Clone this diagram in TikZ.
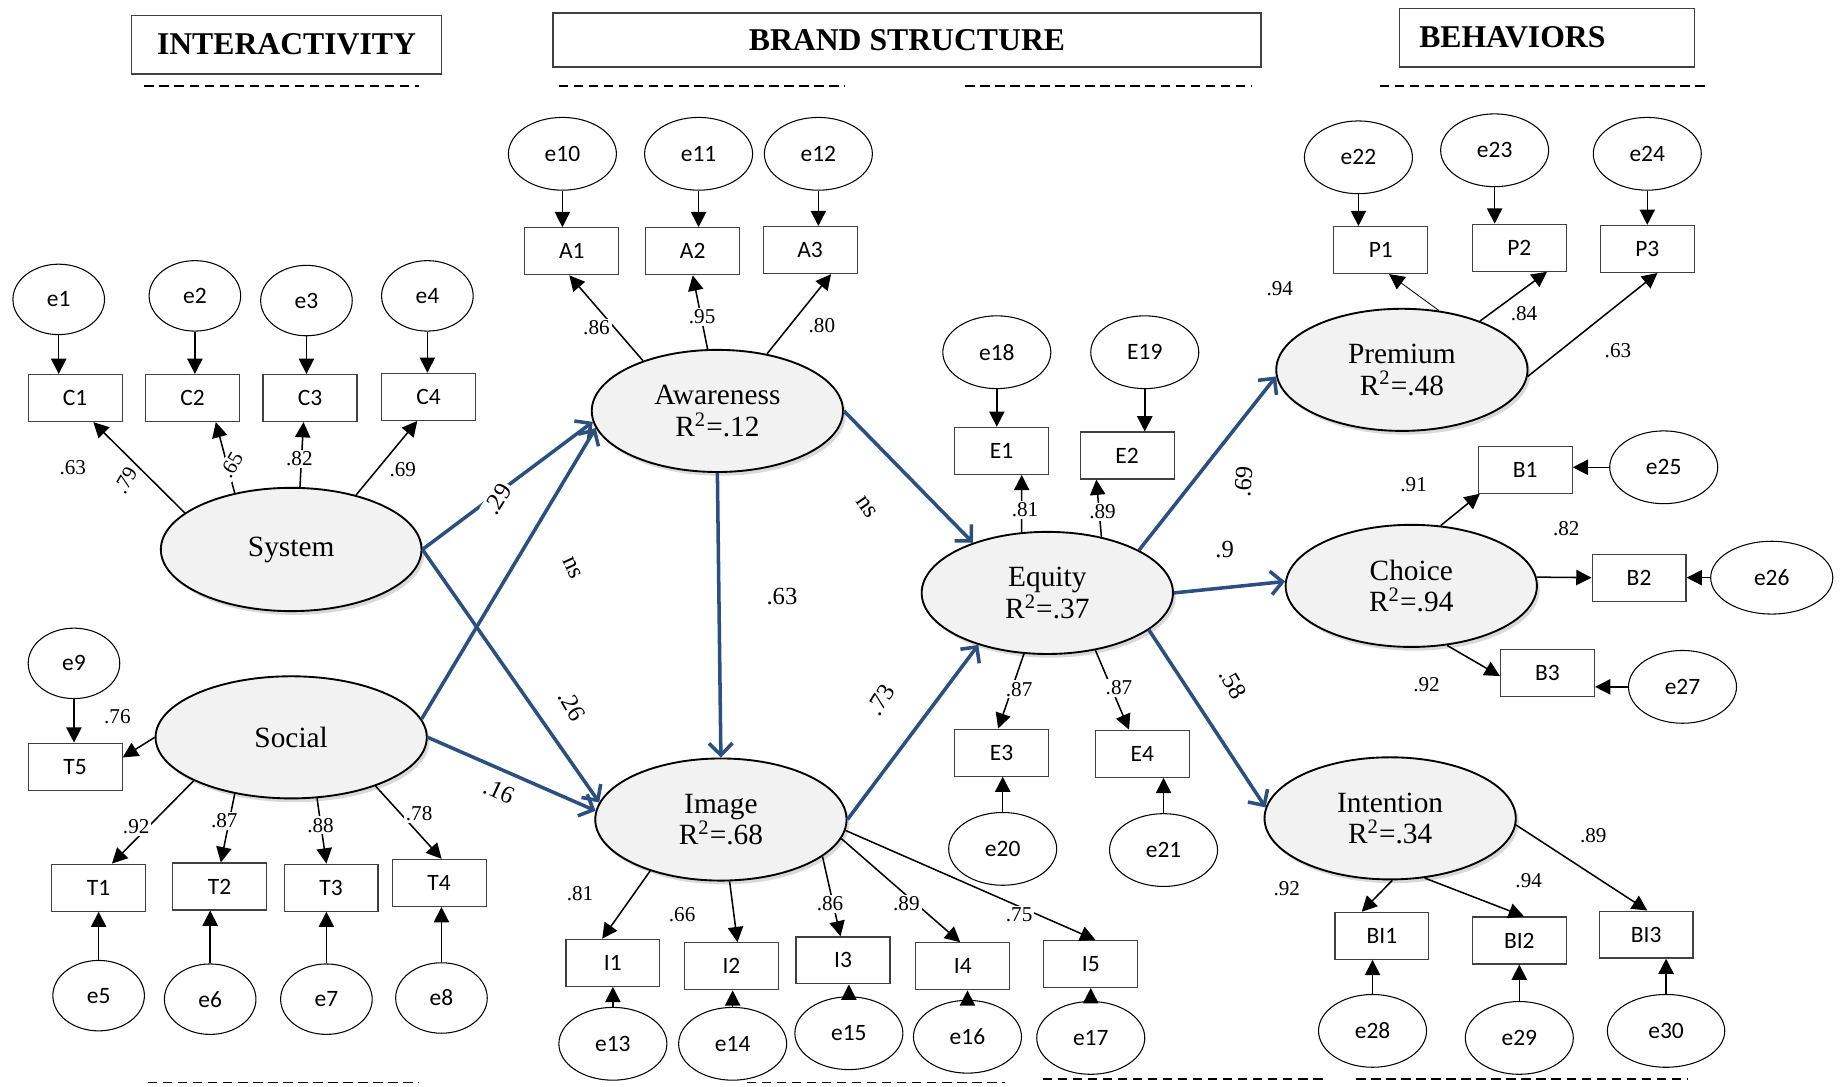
\documentclass[tikz,border=0pt]{standalone}
\usepackage{fontspec}
\setmainfont{Liberation Serif}
\newfontfamily\carlito{Carlito}
\usetikzlibrary{arrows.meta,shapes.geometric,shadows,calc}

\definecolor{pathblue}{RGB}{43,79,129}
\definecolor{latfill}{RGB}{242,242,242}

\tikzset{
  lat/.style={ellipse, draw=black, line width=0.8pt, fill=latfill,
    minimum width=107pt, minimum height=52pt, inner sep=0pt, align=center,
    font=\fontsize{12.5}{13.5}\selectfont,
    drop shadow={shadow xshift=1.2pt, shadow yshift=-1.6pt, opacity=0.3}},
  err/.style={ellipse, draw=black, line width=0.45pt, minimum width=46pt,
    minimum height=31pt, inner sep=0pt, font=\carlito\fontsize{10}{12}\selectfont},
  errs/.style={err, minimum width=39pt, minimum height=30pt},
  ind/.style={rectangle, draw=black!75, line width=0.5pt, minimum width=40pt,
    minimum height=20pt, inner sep=0pt, font=\carlito\fontsize{10}{12}\selectfont},
  hdr/.style={rectangle, draw=black!75, line width=0.6pt, inner sep=0pt},
  hdrtext/.style={font=\bfseries\fontsize{13.5}{15}\selectfont, inner sep=0pt},
  dashline/.style={line width=0.75pt, dash pattern=on 4pt off 2.4pt},
  load/.style={line width=0.65pt, -{Triangle[length=6.5pt,width=6.5pt]}},
  errarr/.style={line width=0.65pt, -{Triangle[length=6.5pt,width=6.5pt]}},
  struct/.style={draw=pathblue, line width=1.5pt, -{Straight Barb[length=5pt,width=10pt]}},
  num/.style={font=\fontsize{9}{10}\selectfont, fill=white, inner sep=0.8pt},
  snum/.style={font=\fontsize{10.5}{12}\selectfont, fill=white, inner sep=1pt},
}

\begin{document}
\begin{tikzpicture}[x=0.5pt, y=-0.5pt]
\useasboundingbox (0,0) rectangle (1568,925);

% ---------- section headers ----------
\node[hdr, minimum width=132pt, minimum height=25pt] (hint) at (244,38) {};
\node[hdrtext] (tint) at (hint.center) {INTERACTIVITY};
\node[hdr, minimum width=301.5pt, minimum height=23pt] (hbrand) at (772.5,34) {};
\node[hdrtext] (tbrand) at (hbrand.center) {BRAND STRUCTURE};
\node[hdr, minimum width=125.5pt, minimum height=25pt] (hbeh) at (1317.5,32) {};
\node[hdrtext, anchor=west] (tbeh) at ($(hbeh.west)+(17,0)$) {BEHAVIORS};

\draw[dashline] (123,73) -- (357,73);
\draw[dashline] (476,73) -- (720,73);
\draw[dashline] (822,73) -- (1066,73);
\draw[dashline] (1175,73) -- (1455,73);
\draw[dashline] (126,922) -- (357,922);
\draw[dashline] (636,922) -- (856,922);
\draw[dashline] (888,919) -- (1130,919);
\draw[dashline] (1155,919) -- (1438,919);

% ---------- latent variables ----------
\node[lat, minimum width=111pt, minimum height=52.5pt] (sys) at (248,468) {System};
\node[lat, minimum width=115.5pt, minimum height=52pt] (soc) at (248,628) {Social};
\node[lat] (aw) at (611,350) {Awareness\\R\textsuperscript{2}=.12};
\node[lat] (img) at (614,698) {Image\\R\textsuperscript{2}=.68};
\node[lat] (eq) at (892,505) {Equity\\R\textsuperscript{2}=.37};
\node[lat] (prem) at (1194,315) {Premium\\R\textsuperscript{2}=.48};
\node[lat] (cho) at (1202,499) {Choice\\R\textsuperscript{2}=.94};
\node[lat] (intn) at (1184,697) {Intention\\R\textsuperscript{2}=.34};

% ---------- indicators ----------
\node[ind] (c1) at (64,339) {C1};
\node[ind] (c2) at (164,339) {C2};
\node[ind] (c3) at (264,339) {C3};
\node[ind] (c4) at (365,338) {C4};
\node[ind] (t5) at (64,653) {T5};
\node[ind] (t1) at (84,756) {T1};
\node[ind] (t2) at (187,755) {T2};
\node[ind] (t3) at (282,756) {T3};
\node[ind] (t4) at (374,752) {T4};
\node[ind] (a1) at (487,214) {A1};
\node[ind] (a2) at (590,214) {A2};
\node[ind] (a3) at (690,213) {A3};
\node[ind] (ee1) at (853,384) {E1};
\node[ind] (ee2) at (960,388) {E2};
\node[ind] (ee3) at (853,641) {E3};
\node[ind] (ee4) at (973,642) {E4};
\node[ind] (i1) at (522,820) {I1};
\node[ind] (i2) at (623,823) {I2};
\node[ind] (i3) at (718,818) {I3};
\node[ind] (i4) at (820,823) {I4};
\node[ind] (i5) at (929,821) {I5};
\node[ind] (p1) at (1176,213) {P1};
\node[ind] (p2) at (1294,211) {P2};
\node[ind] (p3) at (1403,212) {P3};
\node[ind] (b1) at (1299,400) {B1};
\node[ind] (b2) at (1396,492) {B2};
\node[ind] (b3) at (1318,573) {B3};
\node[ind] (bi1) at (1177,797) {BI1};
\node[ind] (bi2) at (1294,801) {BI2};
\node[ind] (bi3) at (1402,796) {BI3};

% ---------- error terms ----------
\node[errs] (e1) at (50,255) {e1};
\node[errs] (e2) at (166,252) {e2};
\node[errs] (e3) at (261,256) {e3};
\node[errs] (e4) at (364,252) {e4};
\node[errs] (e9) at (63,565) {e9};
\node[errs] (e5) at (84,848) {e5};
\node[errs] (e6) at (179,851) {e6};
\node[errs] (e7) at (278,851) {e7};
\node[errs] (e8) at (376,850) {e8};
\node[err] (e10) at (479,131) {e10};
\node[err] (e11) at (595,131) {e11};
\node[err] (e12) at (697,131) {e12};
\node[err] (e18) at (849,300) {e18};
\node[err] (e19) at (975,300) {E19};
\node[err] (e20) at (854,723) {e20};
\node[err] (e21) at (991,724) {e21};
\node[err] (e13) at (522,889) {e13};
\node[err] (e14) at (624,889) {e14};
\node[err] (e15) at (723,880) {e15};
\node[err] (e16) at (824,883) {e16};
\node[err] (e17) at (929,884) {e17};
\node[err] (e22) at (1157,134) {e22};
\node[err] (e23) at (1273,128) {e23};
\node[err] (e24) at (1403,131) {e24};
\node[err] (e25) at (1417,398) {e25};
\node[err, minimum width=52pt] (e26) at (1509,492) {e26};
\node[err] (e27) at (1433,585) {e27};
\node[err] (e28) at (1169,878) {e28};
\node[err] (e29) at (1294,884) {e29};
\node[err, minimum width=50pt] (e30) at (1419,878) {e30};

% ---------- error arrows ----------
\foreach \e/\m in {e1/c1,e2/c2,e3/c3,e4/c4,e9/t5,e10/a1,e11/a2,e12/a3,e18/ee1,e19/ee2,e22/p1,e23/p2,e24/p3}
  \draw[errarr] (\e.south) -- (\e.south |- \m.north);
\foreach \e/\m in {e5/t1,e6/t2,e7/t3,e8/t4,e13/i1,e14/i2,e15/i3,e16/i4,e17/i5,e20/ee3,e21/ee4,e28/bi1,e29/bi2,e30/bi3}
  \draw[errarr] (\e.north) -- (\e.north |- \m.south);
\foreach \e/\m in {e25/b1,e26/b2,e27/b3}
  \draw[errarr] (\e.west) -- (\e.west -| \m.east);

% ---------- factor loadings ----------
\draw[load] (sys.161) -- (c1.-53);
\draw[load] (sys.135) -- (c2.-46);
\draw[load] (sys.82) -- (c3.-105);
\draw[load] (sys.40) -- (c4.-115);
\draw[load] (soc.180) -- (t5.11);
\draw[load] (soc.204) -- (t1.61);
\draw[load] (soc.225) -- (t2.87);
\draw[load] (soc.293) -- (t3.101);
\draw[load] (soc.330) -- (t4.84);
\draw[load] (aw.146) -- (a1.-96);
\draw[load] (aw.99) -- (a2.-90);
\draw[load] (aw.49) -- (a3.-49);
\draw[load] (eq.113) -- (ee1.-50);
\draw[load] (eq.46) -- (ee2.-142);
\draw[load] (eq.249) -- (ee3.98);
\draw[load] (eq.310) -- (ee4.119);
\draw[load] (img.216) -- (i1.114);
\draw[load] (img.278) -- (i2.76);
\draw[load] (img.340) -- (i3.96);
\draw[load] (img.351) -- (i4.96);
\draw[load] (img.355) -- (i5.79);
\draw[load, line width=0.35pt] (prem.58) -- (p1.-71);
\draw[load] (prem.32) -- (p2.-41);
\draw[load] (prem.357) -- (p3.-67);
\draw[load] (cho.64) -- (b1.208);
\draw[load] (cho.4) -- (b2.180);
\draw[load] (cho.301) -- (b3.184);
\draw[load] (intn.272) -- (bi1.130);
\draw[load] (intn.300) -- (bi2.79);
\draw[load] (intn.357) -- (bi3.87);

% ---------- structural paths ----------
\draw[struct] (sys.east) -- (aw.185);
\draw[struct] (soc.8) -- (aw.188);
\draw[struct] (sys.east) -- (img.172);
\draw[struct] (soc.east) -- (img.176);
\draw[struct] (aw.south) -- (img.north);
\draw[struct] (aw.east) -- (eq.146);
\draw[struct] (img.east) -- (eq.217);
\draw[struct] (eq.25) -- (prem.183);
\draw[struct] (eq.east) -- (cho.178);
\draw[struct] (eq.340) -- (intn.175);

% ---------- path coefficients ----------
\node[snum, rotate=58] (s1) at (424,425) {.29};
\node[snum, rotate=-65] (s2) at (487,484) {ns};
\node[snum, rotate=-60] (s3) at (487,601) {.26};
\node[snum, rotate=-25] (s4) at (425,674) {.16};
\node[snum] (s5) at (666,508) {.63};
\node[snum, rotate=-55] (s6) at (738,432) {ns};
\node[snum, rotate=58] (s7) at (750,596) {.73};
\node[snum, rotate=85] (s8) at (1059,410) {.69};
\node[snum] (s9) at (1043,468) {.9};
\node[snum, rotate=-60] (s10) at (1050,582) {.58};

% ---------- loading values ----------
\node[num] (n1) at (62,398) {.63};
\node[num, rotate=60] (n2) at (107,409) {.79};
\node[num, rotate=60] (n3) at (197,396) {.65};
\node[num] (n4) at (255,391) {.82};
\node[num] (n5) at (343,400) {.69};
\node[num] (n6) at (100,610) {.76};
\node[num] (n7) at (116,704) {.92};
\node[num] (n8) at (191,699) {.87};
\node[num] (n9) at (273,703) {.88};
\node[num] (n10) at (357,693) {.78};
\node[num] (n11) at (508,279) {.86};
\node[num] (n12) at (598,270) {.95};
\node[num] (n13) at (700,277) {.80};
\node[num] (n14) at (873,434) {.81};
\node[num] (n15) at (939,436) {.89};
\node[num] (n16) at (868,587) {.87};
\node[num] (n17) at (953,586) {.87};
\node[num] (n18) at (494,761) {.81};
\node[num] (n19) at (581,779) {.66};
\node[num] (n20) at (707,770) {.86};
\node[num] (n21) at (772,770) {.89};
\node[num] (n22) at (868,779) {.75};
\node[num] (n23) at (1090,246) {.94};
\node[num] (n24) at (1298,267) {.84};
\node[num] (n25) at (1378,299) {.63};
\node[num] (n26) at (1204,413) {.91};
\node[num] (n27) at (1334,450) {.82};
\node[num] (n28) at (1215,583) {.92};
\node[num] (n29) at (1096,757) {.92};
\node[num] (n30) at (1302,750) {.94};
\node[num] (n31) at (1357,712) {.89};
\end{tikzpicture}
\end{document}
